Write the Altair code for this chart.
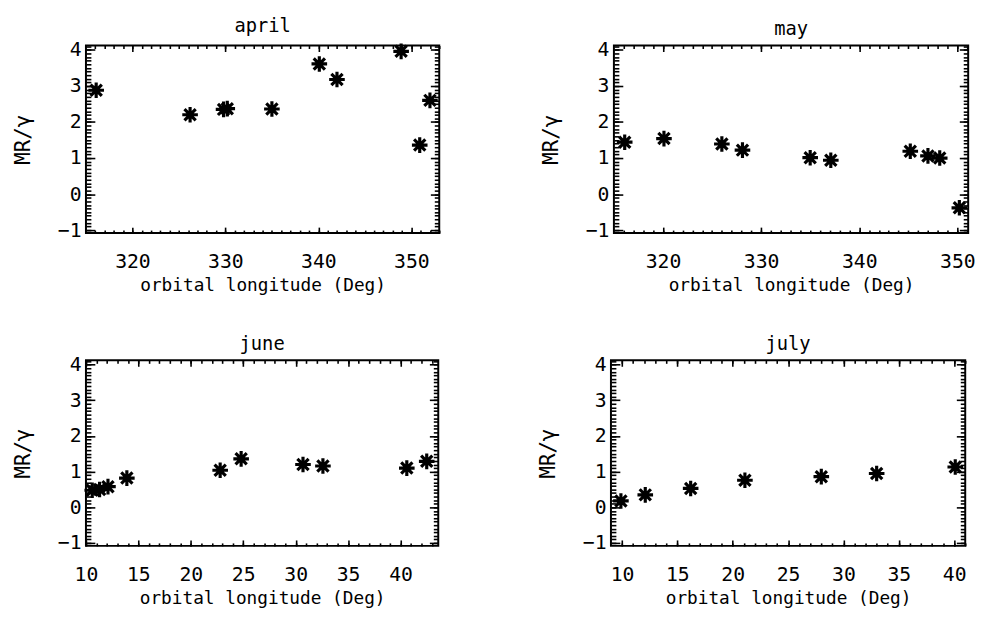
import altair as alt
import pandas as pd

# ---- data ----
april_lon = [316.1, 326.2, 329.8, 330.2, 335, 340.1, 342, 348.9, 350.9, 352]
april_val = [2.88, 2.20, 2.35, 2.37, 2.36, 3.61, 3.18, 3.96, 1.36, 2.60]

may_lon = [316.1, 320.1, 326, 328.1, 335, 337.1, 345.2, 347, 348.2, 350.2]
may_val = [1.44, 1.54, 1.39, 1.22, 1.01, 0.94, 1.19, 1.06, 1.00, -0.38]

june_lon = [10.6, 11.3, 12.1, 13.9, 22.8, 24.8, 30.7, 32.6, 40.6, 42.5]
june_val = [0.48, 0.50, 0.58, 0.82, 1.04, 1.36, 1.20, 1.16, 1.10, 1.29]

july_lon = [9.9, 12.1, 16.2, 21.1, 28.0, 33.0, 40.1]
july_val = [0.18, 0.35, 0.53, 0.76, 0.86, 0.95, 1.13]

titles = ["april", "may", "june", "july"]
y_major = [-1, 0, 1, 2, 3, 4]
y_minor = [round(-1 + 0.1 * i, 1) for i in range(52)]
x_major_spring = [320, 330, 340, 350]
x_major_summer = [10, 15, 20, 25, 30, 35, 40]

FONT = "DejaVu Sans Mono"
ASTER = "M-1,0L1,0M0,-1L0,1M-0.72,-0.72L0.72,0.72M-0.72,0.72L0.72,-0.72"
YDOM = [-1.08, 4.12]


def panel(title, lon, val, xdom, xmajor, xminor, w, h):
    df = pd.DataFrame({"lon": lon, "val": val})
    base = alt.Chart(df)
    xs = alt.Scale(domain=xdom, nice=False, zero=False)
    ys = alt.Scale(domain=YDOM, nice=False, zero=False)

    main = base.mark_point(
        shape=ASTER, filled=False, size=250, strokeWidth=3.2, color="black", opacity=1
    ).encode(
        x=alt.X("lon:Q", scale=xs, axis=alt.Axis(
            orient="bottom", values=xmajor, ticks=False, domain=False, grid=False,
            title="orbital longitude (Deg)", labelPadding=19, titlePadding=5,
            labelFontSize=20, titleFontSize=18, labelFont=FONT, titleFont=FONT,
            labelColor="black", titleColor="black", titleFontWeight="normal",
            labelFlush=False, labelOverlap=False)),
        y=alt.Y("val:Q", scale=ys, axis=alt.Axis(
            orient="left", values=y_major, ticks=False, domain=False, grid=False,
            title="MR/γ", labelPadding=5, titlePadding=24,
            labelFontSize=20, titleFontSize=21, labelFont=FONT, titleFont=FONT,
            labelColor="black", titleColor="black", titleFontWeight="normal",
            labelFlush=False, labelOverlap=False)),
    )

    def ticks(ox, oy, xv, yv, xs_len, ys_len):
        return base.mark_point(opacity=0).encode(
            x=alt.X("lon:Q", scale=xs, axis=alt.Axis(
                orient=ox, values=xv, labels=False, domain=False, grid=False,
                ticks=True, tickSize=xs_len, offset=-xs_len, tickColor="black",
                tickWidth=1.6, title=None)),
            y=alt.Y("val:Q", scale=ys, axis=alt.Axis(
                orient=oy, values=yv, labels=False, domain=False, grid=False,
                ticks=True, tickSize=ys_len, offset=-ys_len, tickColor="black",
                tickWidth=1.6, title=None)),
        )

    layers = [
        ticks("bottom", "left", xmajor, y_major, 6, 9),
        ticks("top", "right", xmajor, y_major, 6, 9),
        ticks("bottom", "left", xminor, y_minor, 3, 5),
        ticks("top", "right", xminor, y_minor, 3, 5),
        main,
    ]
    return alt.layer(*layers).resolve_axis(
        x="independent", y="independent"
    ).properties(
        width=w, height=h,
        title=alt.TitleParams(title, font=FONT, fontSize=19, fontWeight="normal",
                              color="black", offset=1),
    )


spring_minor = list(range(316, 354))
summer_minor_june = list(range(10, 44))
summer_minor_july = list(range(10, 42))

p1 = panel(titles[0], april_lon, april_val, [315, 353], x_major_spring, spring_minor, 358, 190)
p2 = panel(titles[1], may_lon, may_val, [315, 351.1], x_major_spring, spring_minor, 359, 190)
p3 = panel(titles[2], june_lon, june_val, [10, 43.6], x_major_summer, summer_minor_june, 357, 188)
p4 = panel(titles[3], july_lon, july_val, [9, 41], x_major_summer, summer_minor_july, 359, 188)

chart = alt.vconcat(
    alt.hconcat(p1, p2, spacing=95),
    alt.hconcat(p3, p4, spacing=95),
    spacing=39,
).properties(
    padding={"left": 3, "top": 4, "right": 5, "bottom": 5}
).configure(
    background="white"
).configure_view(
    stroke="black", strokeWidth=2
)

chart.save("out.html", embed_options={"renderer": "svg", "actions": False})
